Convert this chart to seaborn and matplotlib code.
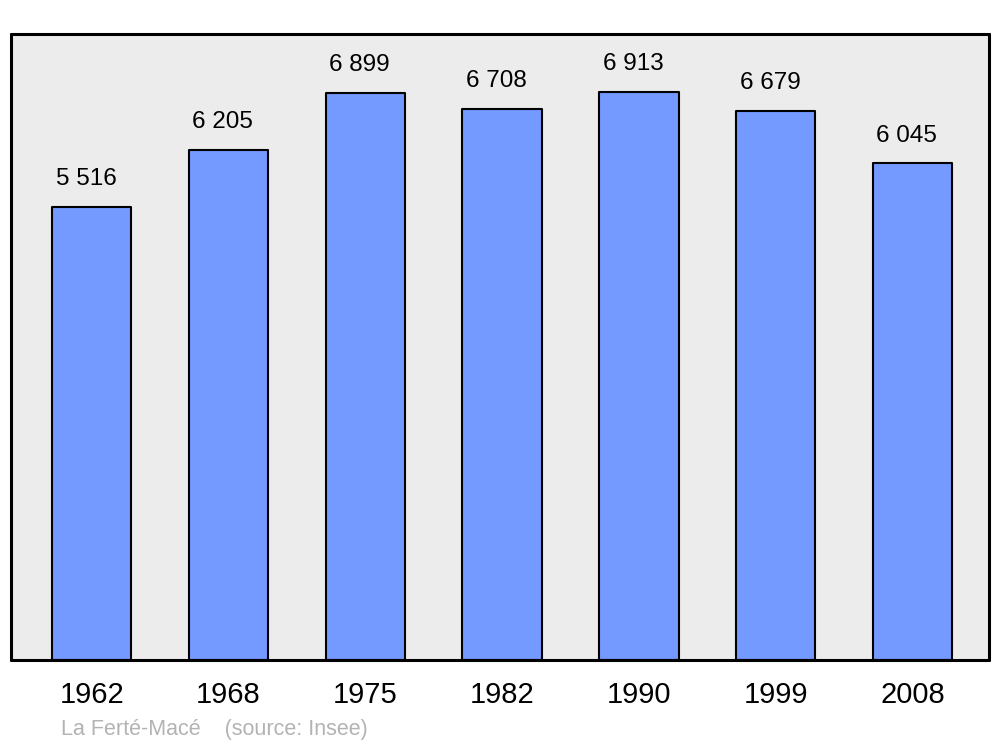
import pandas as pd
import seaborn as sns
import matplotlib.pyplot as plt

# Population data
years = ["1962", "1968", "1975", "1982", "1990", "1999", "2008"]
population = [5516, 6205, 6899, 6708, 6913, 6679, 6045]
labels = ["5 516", "6 205", "6 899", "6 708", "6 913", "6 679", "6 045"]

df = pd.DataFrame({"year": years, "population": population})

sns.set_style("white")
plt.rcParams["font.family"] = ["Liberation Sans", "DejaVu Sans"]

fig = plt.figure(figsize=(10, 7.47), dpi=100)
ax = fig.add_axes([0.011, 0.1165, 0.978, 0.838])
ax.set_facecolor("#ececec")

sns.barplot(data=df, x="year", y="population", color="#7499ff",
            saturation=1, width=0.58, edgecolor="black", linewidth=1.5, ax=ax)
for p in ax.patches:
    p.set_joinstyle("round")

# value labels above bars
for i, (v, txt) in enumerate(zip(population, labels)):
    ax.annotate(txt, (i, v), xytext=(-4, 12), textcoords="offset points",
                ha="center", va="bottom", fontsize=17.5, color="black")

ax.set_xlim(-0.59, 6.56)
ax.set_ylim(0, 7617)
ax.set_yticks([])
ax.set_xlabel("")
ax.set_ylabel("")
ax.tick_params(axis="x", length=0, pad=15, labelsize=21, labelcolor="black")

for s in ax.spines.values():
    s.set_visible(True)
    s.set_color("black")
    s.set_linewidth(2.2)
    s.set_capstyle("round")

fig.text(0.061, 0.009, "La Ferté-Macé    (source: Insee)", fontsize=15.5,
         color="#b3b3b3", ha="left", va="bottom")

plt.savefig("out.png", dpi=100)
